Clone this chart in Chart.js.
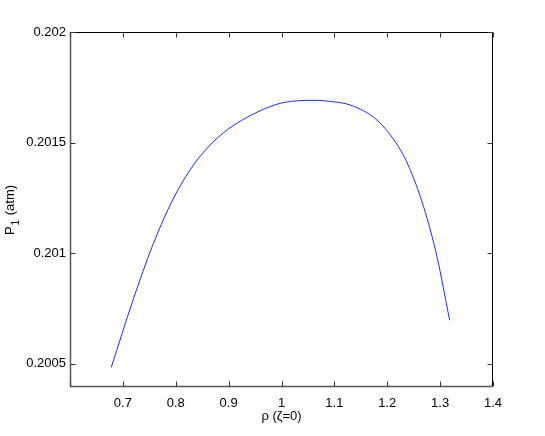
<!DOCTYPE html>
<html>
<head>
<meta charset="utf-8">
<script src="https://cdn.jsdelivr.net/npm/chart.js@4"></script>
<style>
  html, body { margin: 0; padding: 0; background: #fff; }
  #wrap { width: 545px; height: 436px; }
</style>
</head>
<body>
<div id="wrap"><canvas id="chart-p1" width="545" height="436"></canvas></div>
<script>
// rho (zeta=0) and P1 (atm)
const rho = [0.678, 0.719, 0.757, 0.795, 0.833, 0.8707, 0.9086, 0.9403, 0.97, 1.0034,
  1.03, 1.0635, 1.10, 1.1299, 1.1805, 1.2214, 1.2404, 1.2688, 1.2942, 1.318];
const p1 = [0.200484, 0.200787, 0.20104, 0.201245, 0.201397, 0.201503, 0.201577,
  0.201621, 0.201655, 0.201681, 0.201689, 0.201691, 0.201684, 0.20167, 0.201602,
  0.201481, 0.201394, 0.20121, 0.200983, 0.200697];

const xTicks = [0.6, 0.7, 0.8, 0.9, 1.0, 1.1, 1.2, 1.3, 1.4];
const xTickLabels = ["", "0.7", "0.8", "0.9", "1", "1.1", "1.2", "1.3", "1.4"];
const yTicks = [0.2005, 0.201, 0.2015, 0.202];
const yTickLabels = ["0.2005", "0.201", "0.2015", "0.202"];

const FONT = "'Liberation Sans', Arial, Helvetica, sans-serif";

// matlab style box with inward ticks on all four sides
const boxPlugin = {
  id: "box",
  afterDraw(chart) {
    const ctx = chart.ctx;
    const a = chart.chartArea;
    const xs = chart.scales.x, ys = chart.scales.y;
    const L = Math.round(a.left) + 0.5, R = Math.round(a.right) - 0.5;
    const T = Math.round(a.top) + 0.5, B = Math.round(a.bottom) + 0.5;
    ctx.save();
    ctx.lineWidth = 1;
    ctx.strokeStyle = "#000";
    ctx.beginPath();
    ctx.moveTo(L, T); ctx.lineTo(R, T); ctx.lineTo(R, B);
    ctx.stroke();
    ctx.strokeStyle = "#555";
    ctx.lineWidth = 1.5;
    ctx.beginPath();
    ctx.moveTo(L, T); ctx.lineTo(L, B); ctx.lineTo(R, B);
    ctx.stroke();
    ctx.lineWidth = 1;
    ctx.strokeStyle = "#333";
    ctx.beginPath();
    xTicks.forEach(v => {
      const px = Math.round(xs.getPixelForValue(v)) + 0.5;
      ctx.moveTo(px, B); ctx.lineTo(px, B - 5);
      ctx.moveTo(px, T); ctx.lineTo(px, T + 5);
    });
    yTicks.forEach(v => {
      const py = Math.round(ys.getPixelForValue(v)) + 0.5;
      ctx.moveTo(L, py); ctx.lineTo(L + 5, py);
      ctx.moveTo(R, py); ctx.lineTo(R - 5, py);
    });
    ctx.stroke();

    // y title with subscript
    ctx.fillStyle = "#000";
    ctx.translate(14, 210);
    ctx.rotate(-Math.PI / 2);
    ctx.textBaseline = "alphabetic";
    ctx.font = "13px " + FONT;
    const wP = ctx.measureText("P").width;
    ctx.font = "10px " + FONT;
    const w1 = ctx.measureText("1").width;
    ctx.font = "13px " + FONT;
    const wRest = ctx.measureText(" (atm)").width;
    let x0 = -(wP + w1 + 2 + wRest) / 2;
    ctx.fillText("P", x0, 0);
    ctx.font = "10px " + FONT;
    ctx.fillText("1", x0 + wP + 1, 5);
    ctx.font = "13px " + FONT;
    ctx.fillText(" (atm)", x0 + wP + w1 + 2, 0);
    ctx.restore();
  }
};

new Chart(document.getElementById("chart-p1"), {
  type: "line",
  data: {
    datasets: [
      {
        label: "P1",
        data: rho.map((x, i) => ({ x: x, y: p1[i] })),
        borderColor: "#1a2cff",
        borderWidth: 1,
        pointRadius: 0,
        fill: false,
        cubicInterpolationMode: "monotone",
      },
    ],
  },
  options: {
    responsive: false,
    animation: false,
    layout: { padding: { left: 0, top: 32, right: 52, bottom: 0 } },
    plugins: {
      legend: { display: false },
      tooltip: { enabled: false },
    },
    scales: {
      x: {
        type: "linear",
        min: 0.6,
        max: 1.4,
        afterBuildTicks: s => { s.ticks = xTicks.map(v => ({ value: v })); },
        afterFit: s => { s.height = 50; },
        grid: { display: false, drawTicks: false },
        border: { display: false },
        ticks: {
          padding: 10,
          color: "#000",
          font: { family: FONT, size: 13 },
          callback: (v, i) => xTickLabels[i],
        },
        title: {
          display: true,
          text: "ρ (ζ=0)",
          color: "#000",
          font: { family: FONT, size: 13 },
          padding: { top: 0, bottom: 12 },
        },
      },
      y: {
        type: "linear",
        min: 0.2004,
        max: 0.202,
        afterBuildTicks: s => { s.ticks = yTicks.map(v => ({ value: v })); },
        afterFit: s => { s.width = 70; },
        grid: { display: false, drawTicks: false },
        border: { display: false },
        ticks: {
          padding: 4,
          color: "#000",
          font: { family: FONT, size: 13 },
          callback: (v, i) => yTickLabels[i],
        },
      },
    },
  },
  plugins: [boxPlugin],
});
</script>
</body>
</html>
